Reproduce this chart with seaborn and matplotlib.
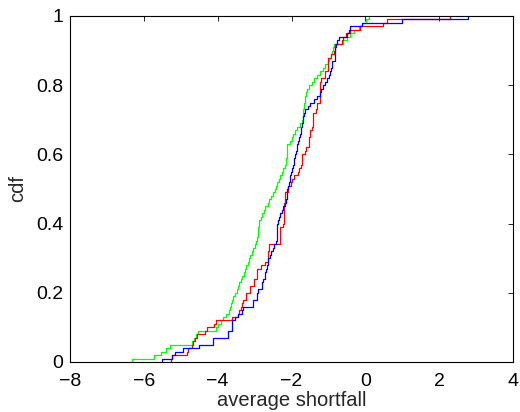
import numpy as np
import pandas as pd
import matplotlib
matplotlib.use("Agg")
import matplotlib.pyplot as plt
import seaborn as sns

# Sorted sample values
blue_vals = [
    -5.52, -5.25, -5.16, -4.93, -4.50, -4.12, -4.12, -3.71, -3.71, -3.62,
    -3.62, -3.60, -3.53, -3.45, -3.35, -3.32, -3.03, -3.03, -2.93, -2.93,
    -2.90, -2.81, -2.81, -2.76, -2.72, -2.72, -2.70, -2.66, -2.63, -2.63,
    -2.58, -2.55, -2.49, -2.47, -2.43, -2.40, -2.40, -2.40, -2.40, -2.38,
    -2.36, -2.33, -2.30, -2.26, -2.22, -2.18, -2.15, -2.13, -2.13, -2.12,
    -2.10, -2.08, -2.05, -2.03, -2.02, -2.00, -1.96, -1.93, -1.93, -1.90,
    -1.88, -1.86, -1.84, -1.82, -1.80, -1.77, -1.75, -1.73, -1.71, -1.70,
    -1.68, -1.66, -1.63, -1.56, -1.50, -1.39, -1.32, -1.23, -1.20, -1.14,
    -1.08, -1.03, -0.98, -0.95, -0.93, -0.91, -0.91, -0.82, -0.82, -0.82,
    -0.82, -0.80, -0.78, -0.70, -0.51, -0.45, -0.42, -0.08, 0.98, 2.79,
]
red_vals = [
    -5.27, -5.25, -4.84, -4.80, -4.70, -4.68, -4.62, -4.55, -4.34, -4.30,
    -4.10, -4.05, -3.62, -3.44, -3.41, -3.38, -3.35, -3.31, -3.23, -3.22,
    -3.13, -3.12, -3.02, -3.01, -2.93, -2.93, -2.93, -2.82, -2.72, -2.63,
    -2.63, -2.63, -2.62, -2.62, -2.31, -2.31, -2.31, -2.30, -2.30, -2.22,
    -2.20, -2.20, -2.20, -2.19, -2.19, -2.19, -2.18, -2.18, -2.18, -2.10,
    -2.09, -2.02, -2.00, -1.93, -1.82, -1.80, -1.74, -1.72, -1.72, -1.72,
    -1.63, -1.60, -1.53, -1.52, -1.52, -1.51, -1.50, -1.44, -1.43, -1.43,
    -1.42, -1.42, -1.33, -1.32, -1.32, -1.23, -1.23, -1.23, -1.22, -1.22,
    -1.22, -1.21, -1.10, -1.10, -1.02, -1.02, -1.01, -1.00, -0.94, -0.85,
    -0.82, -0.82, -0.62, -0.60, -0.52, -0.42, -0.15, 0.49, 0.60, 2.29,
]
green_vals = [
    -6.33, -5.72, -5.53, -5.40, -5.28, -4.70, -4.65, -4.58, -4.52, -4.05,
    -3.98, -3.92, -3.85, -3.78, -3.70, -3.66, -3.63, -3.60, -3.58, -3.52,
    -3.48, -3.45, -3.42, -3.38, -3.35, -3.30, -3.27, -3.22, -3.18, -3.15,
    -3.12, -3.08, -3.05, -3.00, -2.96, -2.93, -2.92, -2.90, -2.90, -2.89,
    -2.88, -2.83, -2.79, -2.75, -2.71, -2.65, -2.60, -2.55, -2.50, -2.45,
    -2.42, -2.39, -2.35, -2.30, -2.26, -2.22, -2.18, -2.14, -2.14, -2.13,
    -2.13, -2.13, -2.12, -2.05, -2.00, -1.96, -1.91, -1.85, -1.78, -1.72,
    -1.70, -1.69, -1.68, -1.66, -1.65, -1.64, -1.63, -1.61, -1.58, -1.52,
    -1.45, -1.38, -1.30, -1.22, -1.15, -1.08, -1.02, -0.98, -0.94, -0.91,
    -0.88, -0.84, -0.60, -0.50, -0.42, -0.30, -0.18, -0.08, 0.02, 0.10,
]
series_names = ["blue", "red", "green"]
series_colors = ["#0000ff", "#ff0000", "#00ff00"]

x_ticks = [-8, -6, -4, -2, 0, 2, 4]
y_ticks = [0, 0.2, 0.4, 0.6, 0.8, 1]
y_tick_labels = ["0", "0.2", "0.4", "0.6", "0.8", "1"]

df = pd.DataFrame({
    "value": blue_vals + red_vals + green_vals,
    "series": (["blue"] * len(blue_vals) + ["red"] * len(red_vals)
               + ["green"] * len(green_vals)),
})

sns.set_theme(style="white")
plt.rcParams["font.family"] = ["Liberation Sans", "DejaVu Sans"]

fig = plt.figure(figsize=(5.2, 4.12), dpi=100)
ax = fig.add_axes([70 / 520, 50 / 412, 443 / 520, 346 / 412])

sns.ecdfplot(data=df, x="value", hue="series", hue_order=series_names,
             palette=dict(zip(series_names, series_colors)), ax=ax,
             linewidth=0.9, legend=False)

ax.set_xlim(-8, 4)
ax.set_ylim(0, 1)
ax.set_xticks(x_ticks)
ax.set_yticks(y_ticks)
ax.set_yticklabels(y_tick_labels)
ax.set_xlabel("average shortfall", fontsize=14.5, labelpad=1)
ax.set_ylabel("cdf", fontsize=14.5, labelpad=6)
ax.tick_params(direction="in", length=3.6, width=0.6, top=True, right=True,
               labelsize=14, colors="black")
ax.tick_params(axis="x", pad=8)
ax.tick_params(axis="y", pad=5)
for sp in ax.spines.values():
    sp.set_visible(True)
    sp.set_color("black")
    sp.set_linewidth(0.8)
    sp.set_zorder(5)

fig.savefig("out.png", dpi=100, facecolor="white")
